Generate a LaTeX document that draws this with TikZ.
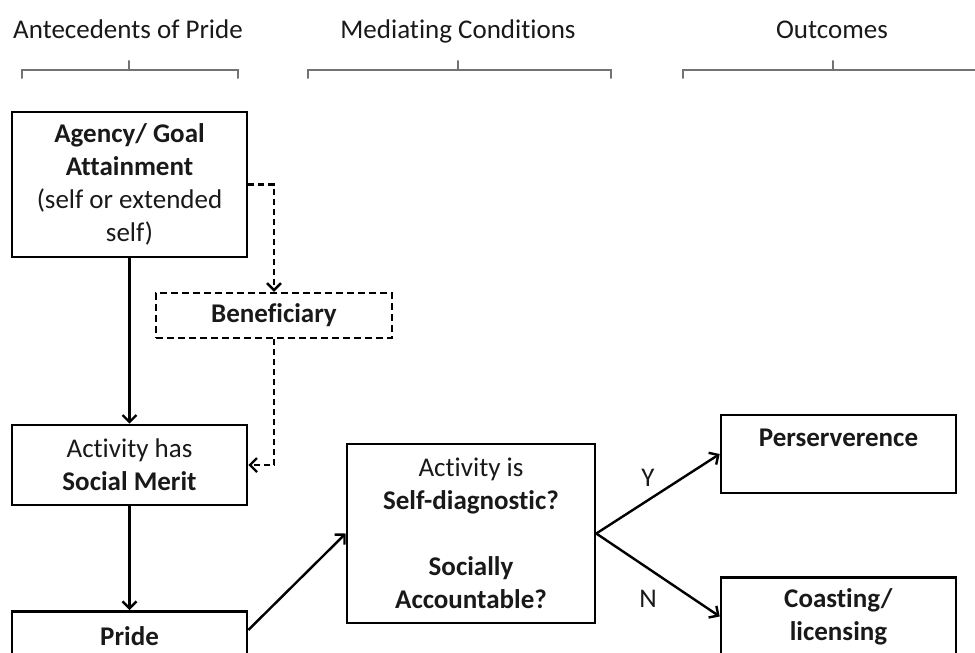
\documentclass[tikz,border=0pt]{standalone}
\usepackage{fontspec}
\setmainfont{Carlito}[Ligatures=NoCommon]
\usetikzlibrary{arrows.meta}
\begin{document}
\begin{tikzpicture}[x=1pt,y=-1pt,
  every node/.style={font=\fontsize{27}{33}\selectfont, text=black!90},
  box/.style={draw=black, line width=2.6pt, align=center, inner sep=0pt, minimum width=235pt},
  dbox/.style={box, line width=2.4pt, dash pattern=on 7pt off 4pt},
  conn/.style={line width=2.4pt, -{Straight Barb[length=7pt,width=14pt]}},
  dconn/.style={conn, dash pattern=on 6pt off 4pt},
  brk/.style={draw=black!55, line width=2pt, line cap=round},
  lab/.style={inner sep=0pt}]
\useasboundingbox (0,0) rectangle (975,653);
\clip (0,0) rectangle (975,653);
% headers
\node[anchor=base] (h1) at (128,38) {Antecedents of Pride};
\node[anchor=base] (h2) at (458,38) {Mediating Conditions};
\node[anchor=base] (h3) at (832,38) {Outcomes};
% brackets
\draw[brk] (22,78) -- (22,70) -- (238,70) -- (238,78);
\draw[brk] (129,70) -- (129,61);
\draw[brk] (308,78) -- (308,70) -- (611,70) -- (611,78);
\draw[brk] (458,70) -- (458,61);
\draw[brk] (683,78) -- (683,70) -- (990,70);
\draw[brk] (833,70) -- (833,61);
% boxes
\node[box, minimum height=145pt] (agency) at (129.5,184.5)
  {\textbf{Agency/ Goal}\\\textbf{Attainment}\\(self or extended\\self)};
\node[dbox, minimum width=236pt, minimum height=45pt] (benef) at (274,315.5) {\textbf{Beneficiary}};
\node[box, minimum height=80pt] (merit) at (129.5,465) {Activity has\\\textbf{Social Merit}};
\node[box, anchor=north, text height=20pt, text depth=60pt, inner ysep=14pt] (pride) at (129.5,610) {\textbf{Pride}};
\node[box, minimum width=248pt, minimum height=179pt] (act) at (471,533.5)
  {Activity is\\\textbf{Self-diagnostic?}\\[33pt]\textbf{Socially}\\\textbf{Accountable?}};
\node[box, minimum height=78pt] (pers) at (838.5,454) {\textbf{Perserverence}\\\mbox{}};
\node[box, minimum height=78pt] (coast) at (838.5,616.5) {\textbf{Coasting/}\\\textbf{licensing}};
% connectors
\draw[conn] (agency.south) -- (merit.north);
\draw[conn] (merit.south) -- (pride.north);
\draw[dconn] (agency.east) -| (benef.north);
\draw[dconn] (benef.south) |- (merit.east);
\draw[conn] ([yshift=-20pt]pride.north east) -- (act.west);
\draw[conn] (act.east) -- (pers.west);
\draw[conn] (act.east) -- (coast.west);
\node[lab] (ylab) at (648,478) {Y};
\node[lab] (nlab) at (648,599) {N};
\end{tikzpicture}
\end{document}
